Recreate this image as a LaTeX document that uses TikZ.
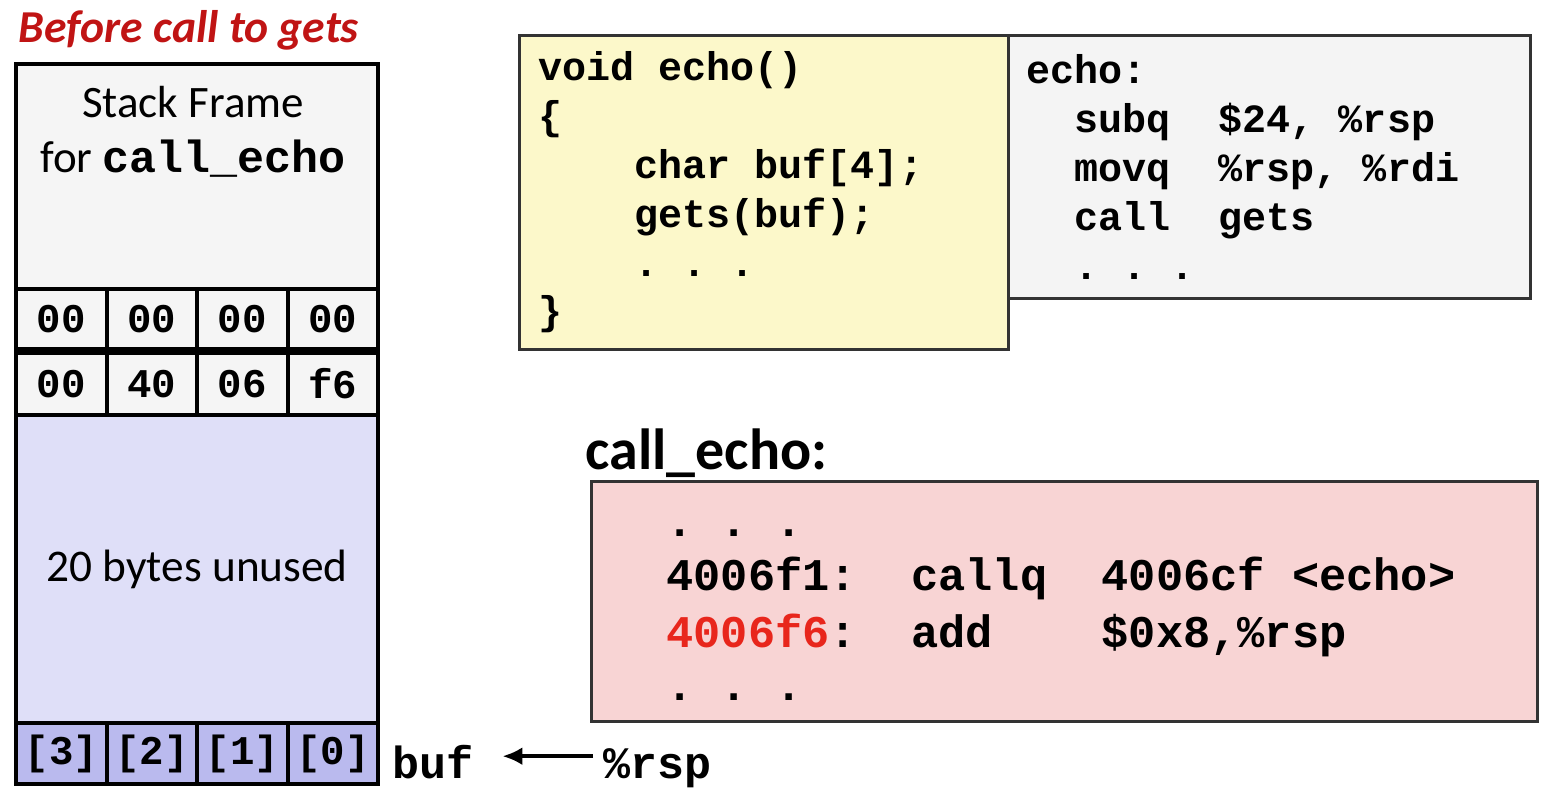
\documentclass[tikz,border=0pt]{standalone}
\usepackage{fontspec}
\setmainfont{Carlito}
\setmonofont{Liberation Mono}
\usetikzlibrary{arrows.meta}

\definecolor{framegray}{RGB}{245,245,245}
\definecolor{unusedblue}{RGB}{223,223,248}
\definecolor{bufblue}{RGB}{186,186,238}
\definecolor{srcyellow}{RGB}{252,248,202}
\definecolor{asmgray}{RGB}{244,244,244}
\definecolor{callpink}{RGB}{248,212,212}
\definecolor{addrred}{RGB}{232,38,28}
\definecolor{titlered}{RGB}{192,20,20}

\tikzset{
  stackbox/.style={draw, line width=1.2pt, anchor=north west, inner sep=0pt},
  bytecell/.style={stackbox, fill=framegray, minimum width=0.905cm, minimum height=0.60cm,
    font=\ttfamily\bfseries\fontsize{11.6}{14}\selectfont},
  bufcell/.style={bytecell, fill=bufblue, minimum height=0.61cm},
  codebox/.style={draw=black!80, line width=0.8pt, anchor=north west, inner xsep=0pt, align=left,
    execute at begin node={\spaceskip=0pt\xspaceskip=0pt\relax}},
  codetext/.style={font=\ttfamily\bfseries\fontsize{12.8}{15}\selectfont,
    text height=2.9ex, text depth=0.3ex, inner sep=0.1cm, anchor=base west}
}

\begin{document}
\begin{tikzpicture}
\useasboundingbox (0,0) rectangle (15.64,-7.96);

\node[anchor=base west, inner sep=0pt, text=titlered,
  font=\bfseries\itshape\fontsize{13}{15}\selectfont] (title) at (0.18,-0.42)
{Before call to gets};

% stack
\node[stackbox, fill=framegray, minimum width=3.62cm, minimum height=2.25cm] (frame) at (0.14,-0.62) {};

\node[align=center, font=\fontsize{12.8}{15.6}\selectfont] (frametext) at (1.93,-1.32)
{Stack Frame\\for {\ttfamily\bfseries call\_echo}};

\foreach \b [count=\i from 0] in {00,00,00,00}
  \node[bytecell] (ret\i) at (0.14+0.905*\i,-2.87) {\b};

\foreach \b [count=\i from 0] in {00,40,06,f6}
  \node[bytecell, minimum height=0.62cm] (addr\i) at (0.14+0.905*\i,-3.51) {\b};

\node[stackbox, fill=unusedblue, minimum width=3.62cm, minimum height=3.08cm,
  font=\fontsize{12.9}{15}\selectfont] (unused) at (0.14,-4.13) {20 bytes unused};

\foreach \b [count=\i from 0] in {3,2,1,0}
  \node[bufcell] (buf\i) at (0.14+0.905*\i,-7.21) {[\b]};

\node[codetext] (buflabel) at (3.82,-7.78) {buf};
\node[codetext] (rsp) at (5.93,-7.78) {\%rsp};

\draw[->,>={Latex[length=2mm,width=1.8mm]},line width=1.3pt,shorten >=0.18cm] (rsp) -- (buflabel);

% code
\node[codebox, fill=asmgray, minimum width=5.22cm, minimum height=2.63cm, text width=4.86cm,
  font=\ttfamily\bfseries\fontsize{11.4}{13.9}\selectfont] (asm) at (10.07,-0.34)
{echo:\\
~~subq~~\$24,~\%rsp\\
~~movq~~\%rsp,~\%rdi\\
~~call~~gets\\
~~.~.~.};

\node[codebox, fill=srcyellow, minimum width=4.89cm, minimum height=3.14cm, text width=4.51cm,
  font=\ttfamily\bfseries\fontsize{11.4}{13.9}\selectfont] (src) at (5.18,-0.34)
{void echo()\\
\{\\
~~~~char buf[4];\\
~~~~gets(buf);\\
~~~~.~.~.\\
\}};

\node[anchor=base west, inner sep=0pt, font=\bfseries\fontsize{16.5}{19}\selectfont] (calllabel) at (5.85,-4.69)
{call\_echo:};

\node[codebox, fill=callpink, minimum width=9.46cm, minimum height=2.40cm, text width=7.96cm,
  text height=0.3cm, text depth=1.60cm,
  font=\ttfamily\bfseries\fontsize{12.9}{16.4}\selectfont] (caller) at (5.90,-4.80)
{.~.~.\\[-0.04cm]
4006f1:~~callq~~4006cf~<echo>\\
\textcolor{addrred}{4006f6}:~~add~~~~\$0x8,\%rsp\\[-0.05cm]
.~.~.};

\end{tikzpicture}
\end{document}
